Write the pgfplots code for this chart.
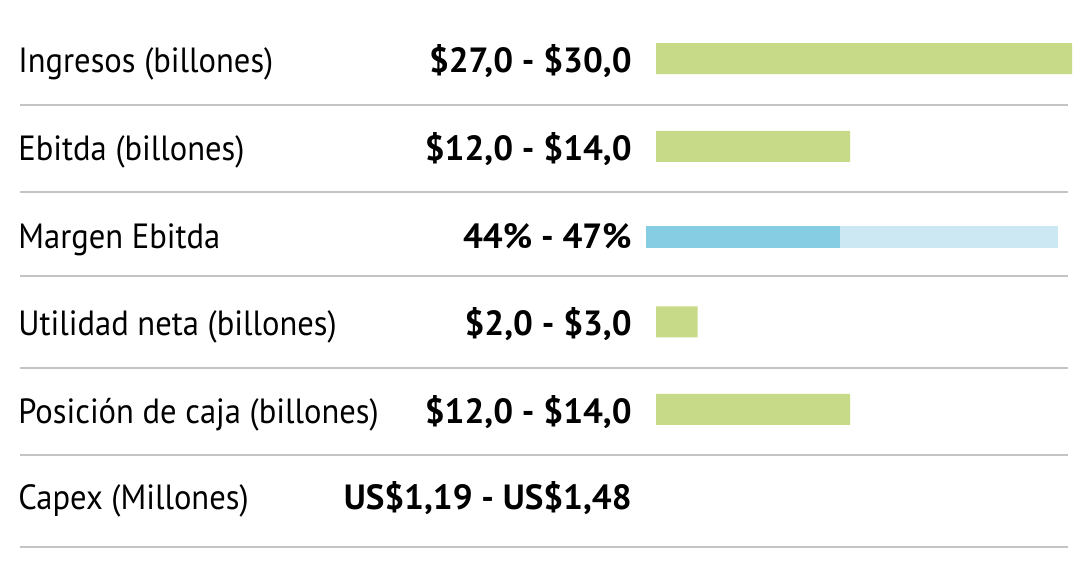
\documentclass[border=0pt]{standalone}
\usepackage{pgfplots}
\pgfplotsset{compat=1.18}
\usepackage{fontspec}
\setmainfont{PT Sans}
\newfontfamily\labelfont{PT Sans}[FakeStretch=0.93]
\definecolor{barGreen}{HTML}{C6DA87}
\definecolor{blueDark}{HTML}{86CDE3}
\definecolor{blueLight}{HTML}{CCE8F2}
\definecolor{sepGray}{HTML}{C4C4C4}
\begin{document}
\begin{tikzpicture}
\pgfplotsset{
  rowaxis/.style={
    width=540pt, height=283.5pt, scale only axis,
    hide axis, clip=false,
    ymin=-0.6667, ymax=5.795, y dir=reverse,
  }
}
% main axis: values (billones)
\begin{axis}[rowaxis, xmin=-47.308, xmax=30.577,
  xbar, bar width=15.5pt]
  \path (rel axis cs:0,0) rectangle (rel axis cs:1,1);
  \addplot[draw=none, fill=barGreen, bar shift=0pt] coordinates {(30,0) (14,1) (3,3) (14,4)};
  % separators
  \foreach \yy in {0.530,1.521,2.479,3.527,4.519,5.567}{
    \edef\tmp{\noexpand\draw[sepGray, line width=1pt] (axis cs:-45.866,\yy) -- (axis cs:29.712,\yy);}\tmp
  }
  % labels
  \begin{scope}[every node/.style={inner sep=0pt, font=\labelfont\fontsize{17.5}{20}\selectfont}]
  \node[anchor=base west] at (axis cs:-46.01,0.165) {Ingresos (billones)};
  \node[anchor=base west] at (axis cs:-46.01,1.157) {Ebitda (billones)};
  \node[anchor=base west] at (axis cs:-46.01,2.160) {Margen Ebitda};
  \node[anchor=base west] at (axis cs:-46.01,3.151) {Utilidad neta (billones)};
  \node[anchor=base west] at (axis cs:-46.01,4.165) {Posición de caja (billones)};
  \node[anchor=base west] at (axis cs:-46.01,5.134) {Capex (Millones)};
  \end{scope}
  \begin{scope}[every node/.style={inner sep=0pt, font=\fontsize{17.5}{20}\selectfont\bfseries}]
  \node[anchor=base east] at (axis cs:-1.731,0.165) {\$27,0 - \$30,0};
  \node[anchor=base east] at (axis cs:-1.731,1.157) {\$12,0 - \$14,0};
  \node[anchor=base east] at (axis cs:-1.731,2.160) {44\% - 47\%};
  \node[anchor=base east] at (axis cs:-1.731,3.151) {\$2,0 - \$3,0};
  \node[anchor=base east] at (axis cs:-1.731,4.165) {\$12,0 - \$14,0};
  \node[anchor=base east] at (axis cs:-1.731,5.134) {US\$1,19 - US\$1,48};
  \end{scope}
\end{axis}
% margin axis (percent)
\begin{axis}[rowaxis, xmin=-156.80, xmax=105.34,
  xbar, bar width=11pt]
  \addplot[draw=none, fill=blueLight, bar shift=-1.5pt] coordinates {(100,2)};
  \addplot[draw=none, fill=blueDark, bar shift=-1.5pt] coordinates {(47,2)};
\end{axis}
\end{tikzpicture}
\end{document}
